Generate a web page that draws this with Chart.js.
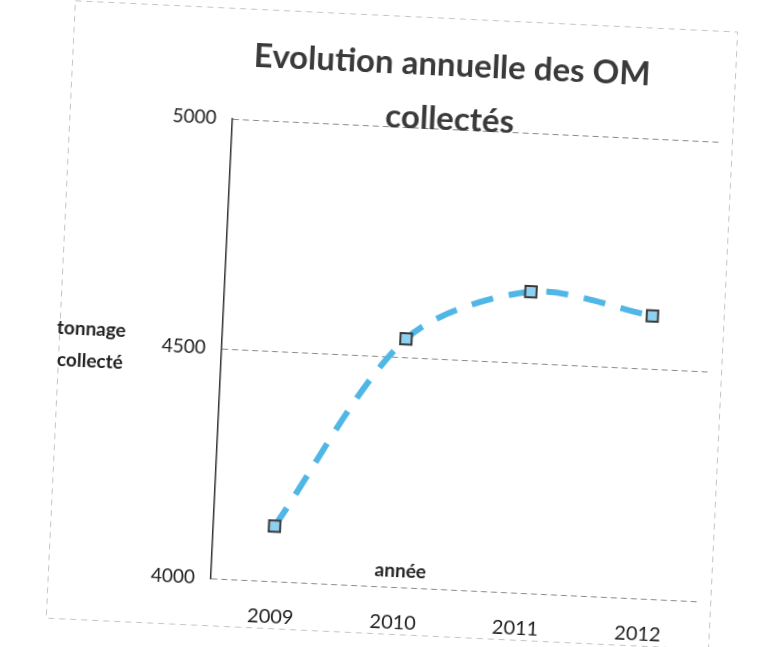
<!DOCTYPE html>
<html>
<head>
<meta charset="utf-8">
<script src="https://cdn.jsdelivr.net/npm/chart.js@4.4.0/dist/chart.umd.min.js"></script>
<style>
    html, body { margin: 0; padding: 0; background: #fff; overflow: hidden; }
    #wrap { width: 759px; height: 647px; transform: rotate(2.7deg); transform-origin: 50% 50%; }
</style>
</head>
<body>
<div id="wrap"><canvas id="chart" width="759" height="647"></canvas></div>
<script>
var annees = ['2009', '2010', '2011', '2012'];
var tonnage = [4120, 4540, 4655, 4615];
var yTicks = [4000, 4500, 5000];
var titre = ['Evolution annuelle des OM', 'collectés'];
var titreY = ['tonnage', 'collecté'];
var titreX = 'année';

var fontFamily = 'Lato, "Open Sans", sans-serif';

// textes et cadre dessinés a la main pour garder la disposition de l'original
var decor = {
    id: 'decor',
    beforeDraw: function (chart) {
        var ctx = chart.ctx;
        ctx.save();
        ctx.strokeStyle = '#c4c4c4';
        ctx.lineWidth = 1;
        ctx.setLineDash([6, 5]);
        ctx.strokeRect(60.5, 15.5, 663, 618);
        ctx.restore();
    },
    afterDraw: function (chart) {
        var ctx = chart.ctx;
        var area = chart.chartArea;
        ctx.save();
        ctx.textAlign = 'center';
        ctx.textBaseline = 'middle';
        ctx.fillStyle = '#3a3a3a';
        ctx.font = 'bold 33px ' + fontFamily;
        ctx.fillText(titre[0], 440, 62);
        ctx.fillText(titre[1], 440, 116);

        ctx.fillStyle = '#222';
        ctx.font = 'bold 19px ' + fontFamily;
        ctx.fillText(titreY[0], 92, 343);
        ctx.fillText(titreY[1], 92, 375);
        ctx.fillText(titreX, 412, area.bottom - 16);
        ctx.restore();
    }
};

var chart = new Chart(
    document.getElementById('chart'),
    {
        type: 'line',
        data: {
            labels: annees,
            datasets: [{
                label: 'tonnage collecté',
                data: tonnage,
                borderColor: '#4fb6e6',
                borderWidth: 6,
                borderDash: [22, 16],
                fill: false,
                tension: 0.3,
                pointStyle: 'rect',
                pointRadius: 8,
                pointBackgroundColor: '#8fd0f0',
                pointBorderColor: '#3a3a3a',
                pointBorderWidth: 2
            }]
        },
        plugins: [decor],
        options: {
            responsive: false,
            animation: false,
            layout: {
                padding: { left: 0, top: 126, right: 46, bottom: 0 }
            },
            plugins: {
                legend: { display: false },
                title: { display: false },
                tooltip: { enabled: false }
            },
            scales: {
                x: {
                    offset: true,
                    grid: { display: false, drawTicks: false },
                    border: { display: false },
                    ticks: {
                        padding: 24,
                        color: '#222',
                        font: { family: fontFamily, size: 20 }
                    },
                    afterFit: function (scale) { scale.height = 61; }
                },
                y: {
                    min: 4000,
                    max: 5000,
                    afterBuildTicks: function (scale) {
                        scale.ticks = yTicks.map(function (v) { return { value: v }; });
                    },
                    grid: {
                        color: '#8a8a8a',
                        lineWidth: 1,
                        drawTicks: false
                    },
                    border: { display: true, color: '#333', width: 1.5, dash: [6, 4] },
                    ticks: {
                        padding: 16,
                        color: '#222',
                        font: { family: fontFamily, size: 19 },
                        callback: function (v) { return String(v); }
                    },
                    afterFit: function (scale) { scale.width = 223; }
                }
            }
        }
    }
);
</script>
</body>
</html>
